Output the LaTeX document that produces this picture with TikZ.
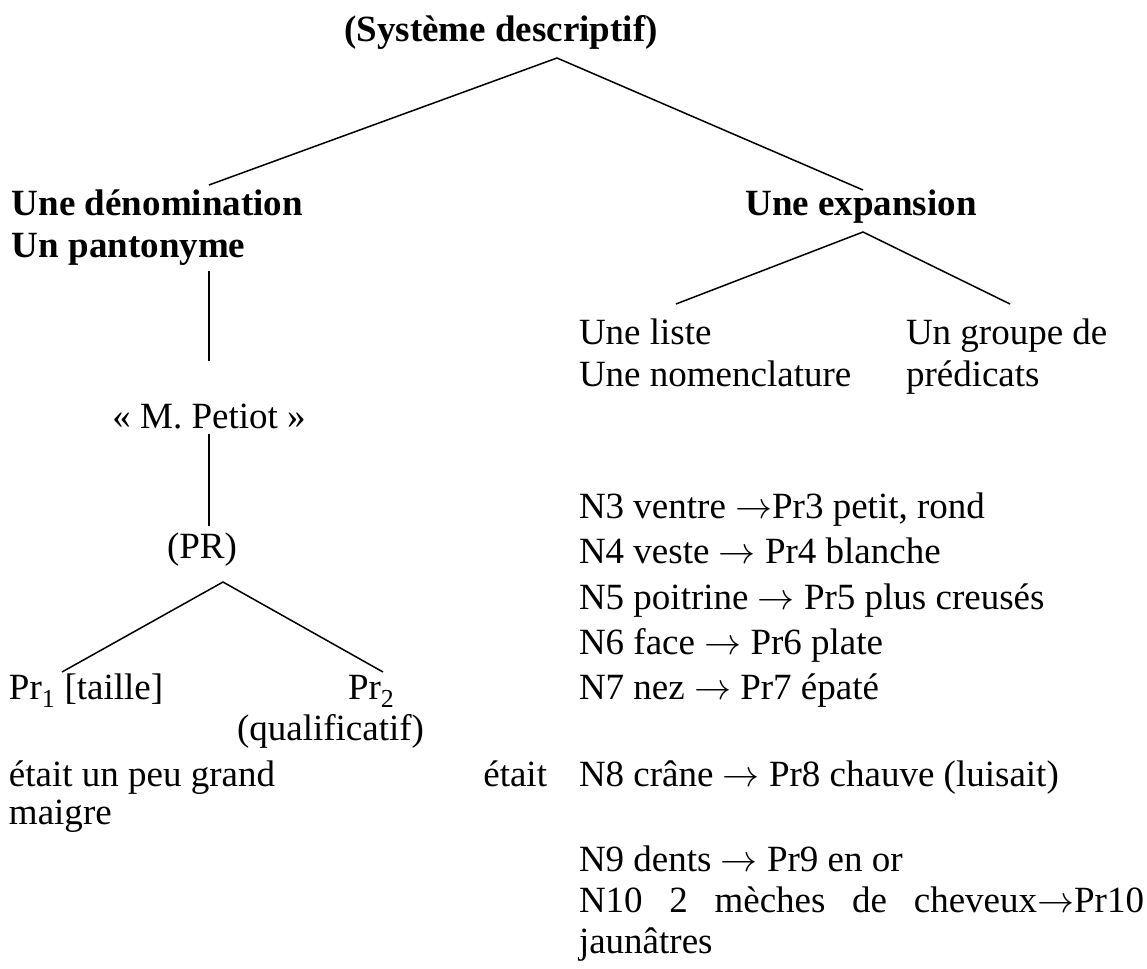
\documentclass[tikz,border=0pt]{standalone}
\usepackage{fontspec}
\setmainfont{Liberation Serif}
\newcommand{\myarr}{\scalebox{1.487}{$\rightarrow$}}
\begin{document}
\begin{tikzpicture}[x=1pt,y=-1pt,
  every node/.style={inner sep=0pt, outer sep=0pt, font=\fontsize{37}{42}\selectfont},
  bld/.style={font=\fontsize{37}{42}\selectfont\bfseries},
  txt/.style={anchor=base west},
  ln/.style={line width=1.5pt}]
\useasboundingbox (0,0) rectangle (1147,968);
% headings
\node[bld, anchor=base] (title) at (501,42) {(Système descriptif)};
\node[bld, txt] (den1) at (12,215) {Une dénomination};
\node[bld, txt] (den2) at (12,258) {Un pantonyme};
\node[bld, anchor=base] (exp) at (861,215) {Une expansion};
% left branch
\node[anchor=base] (petiot) at (209,428) {«~M. Petiot~»};
\node[anchor=base] (pr) at (202,558) {(PR)};
\node[txt] (pr1) at (9,699) {Pr\textsubscript{1} [taille]};
\node[txt] (pr2) at (348,699) {Pr\textsubscript{2}};
\node[txt] (qual) at (237,740) {(qualificatif)};
\node[txt] (etait1) at (9,786) {était un peu grand};
\node[anchor=base east] (etait2) at (547,786) {était};
\node[txt] (maigre) at (9,824) {maigre};
% right branch
\node[txt] (liste) at (579,344) {Une liste};
\node[txt] (nomen) at (579,386) {Une nomenclature};
\node[txt] (groupe) at (906,344) {Un groupe de};
\node[txt] (predic) at (906,386) {prédicats};
\node[txt] (n3) at (579,518) {N3 ventre \myarr Pr3 petit, rond};
\node[txt] (n4) at (579,563) {N4 veste \myarr{} Pr4 blanche};
\node[txt] (n5) at (579,609) {N5 poitrine \myarr{} Pr5 plus creusés};
\node[txt] (n6) at (579,654) {N6 face \myarr{} Pr6 plate};
\node[txt] (n7) at (579,699) {N7 nez \myarr{} Pr7 épaté};
\node[txt] (n8) at (579,786) {N8 crâne \myarr{} Pr8 chauve (luisait)};
\node[txt] (n9) at (579,871) {N9 dents \myarr{} Pr9 en or};
\node[txt] (n10) at (579,912) {\makebox[565pt][s]{N10 2 mèches de cheveux\myarr Pr10}};
\node[txt] (jaun) at (579,953) {jaunâtres};
% connector points
\coordinate (a0) at (557,58);
\coordinate (denTop) at (209,185);
\coordinate (expTop) at (863,190);
\coordinate (a1) at (863,232);
\coordinate (listeTop) at (676,304);
\coordinate (groupeTop) at (1010,304);
\coordinate (denBot) at (209,271);
\coordinate (petTop) at (209,361);
\coordinate (petBot) at (209,434);
\coordinate (prTop) at (209,526);
\coordinate (a2) at (223,582);
\coordinate (pr1Top) at (62,672);
\coordinate (pr2Top) at (383,672);
% connectors
\draw[ln] (denTop) -- (a0) -- (expTop);
\draw[ln] (listeTop) -- (a1) -- (groupeTop);
\draw[ln] (denBot) -- (petTop);
\draw[ln] (petBot) -- (prTop);
\draw[ln] (pr1Top) -- (a2) -- (pr2Top);
\end{tikzpicture}
\end{document}
